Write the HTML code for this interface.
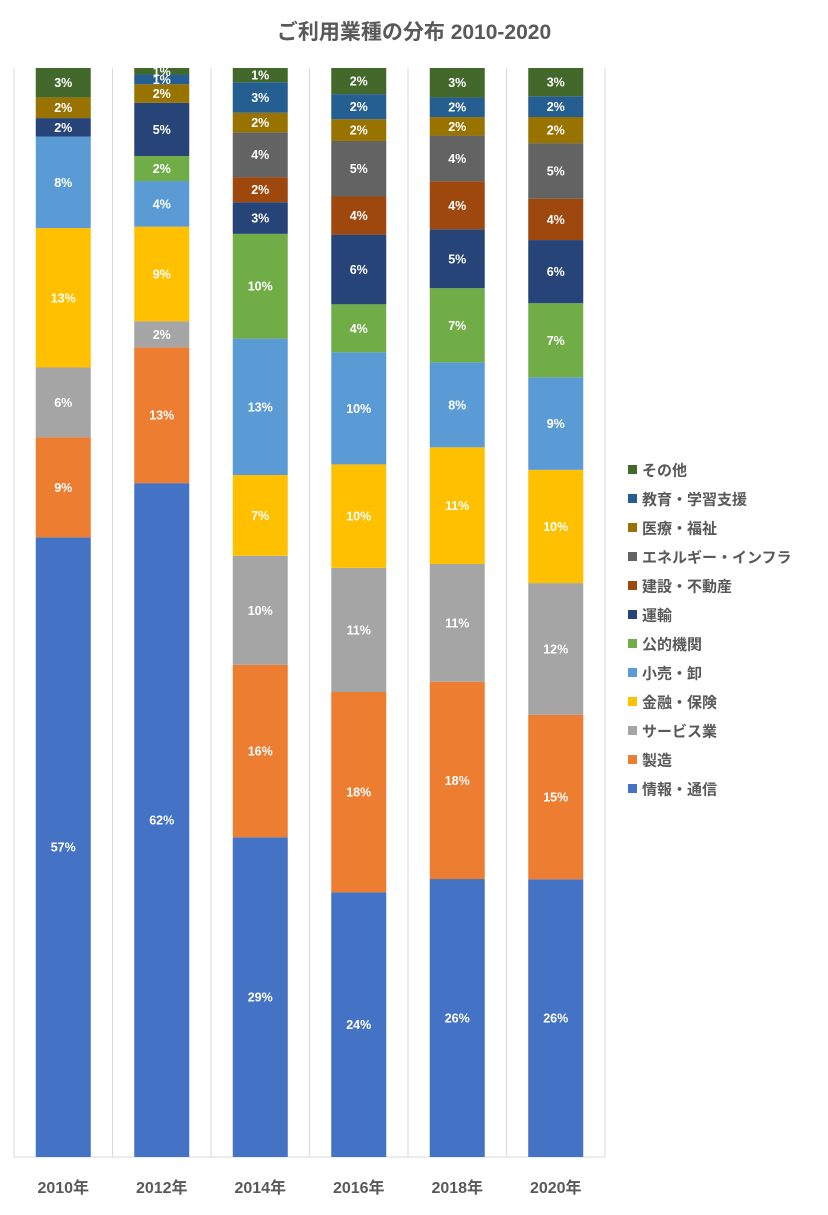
<!DOCTYPE html>
<html><head><meta charset="utf-8">
<style>
body{margin:0;background:#fff;width:828px;height:1210px;overflow:hidden}
text{font-family:"Liberation Sans","Noto Sans CJK JP",sans-serif}
</style></head>
<body>
<svg id="chart" width="828" height="1210">
<text x="414" y="39" text-anchor="middle" font-size="21" font-weight="bold" fill="#595959">ご利用業種の分布 2010-2020</text>
</svg>
<script>
const categories=["2010年","2012年","2014年","2016年","2018年","2020年"];
const seriesNames=["情報・通信","製造","サービス業","金融・保険","小売・卸","公的機関","運輸","建設・不動産","エネルギー・インフラ","医療・福祉","教育・学習支援","その他"];
const colors=["#4472C4","#ED7D31","#A5A5A5","#FFC000","#5B9BD5","#70AD47","#264478","#9E480E","#636363","#997300","#255E91","#43682B"];
const s0=[56.9,62.0,29.3,24.3,25.5,25.5];
const s1=[9.2,12.5,15.8,18.4,18.1,15.1];
const s2=[6.4,2.4,10.0,11.4,10.8,12.1];
const s3=[12.8,8.7,7.4,9.5,10.7,10.4];
const s4=[8.4,4.2,12.5,10.3,7.8,8.5];
const s5=[0,2.3,9.6,4.4,6.8,6.8];
const s6=[1.7,4.9,2.9,6.4,5.4,5.8];
const s7=[0,0,2.3,3.5,4.4,3.8];
const s8=[0,0,4.1,5.1,4.2,5.1];
const s9=[1.9,1.7,1.8,2.0,1.7,2.4];
const s10=[0,0.9,2.8,2.3,1.8,1.9];
const s11=[2.7,0.6,1.3,2.4,2.7,2.6];
const series=[s0,s1,s2,s3,s4,s5,s6,s7,s8,s9,s10,s11];
const NS="http://www.w3.org/2000/svg";
const svg=document.getElementById('chart');
const plotL=14,plotR=605,plotT=68,plotB=1157;
const bandW=(plotR-plotL)/categories.length,barW=55;
function xBand(i){return plotL+bandW*i;}
function yScale(frac){return plotB-frac*(plotB-plotT);}
function mk(tag,attrs){const e=document.createElementNS(NS,tag);for(const k in attrs)e.setAttribute(k,attrs[k]);svg.appendChild(e);return e;}
for(let i=0;i<=categories.length;i++){
  const g=mk('line',{x1:xBand(i),x2:xBand(i),y1:plotT,y2:plotB,stroke:'#d9d9d9','stroke-width':1});
  
  
}
const ax=mk('line',{x1:plotL,x2:plotR,y1:plotB,y2:plotB,stroke:'#d9d9d9','stroke-width':1});


categories.forEach((c,i)=>{
  let total=0;series.forEach(s=>total+=s[i]);
  let cum=0;
  const cx=xBand(i)+bandW/2;
  series.forEach((s,k)=>{
    const v=s[i];
    const y1=yScale(cum/total),y2=yScale((cum+v)/total);
    cum+=v;
    if(v<=0)return;
    const r=mk('rect',{x:cx-barW/2,y:y2,width:barW,height:y1-y2,fill:colors[k]});
    
    
    const t=mk('text',{x:cx,y:(y1+y2)/2+4.5,'text-anchor':'middle','font-size':12.5,'font-weight':'bold',fill:'#fff'});
    t.textContent=Math.round(v)+'%';
    
    
  });
  const xl=mk('text',{x:cx,y:1193,'text-anchor':'middle','font-size':16,'font-weight':'bold',fill:'#595959'});
  xl.textContent=c;
  
  
});
for(let k=series.length-1;k>=0;k--){
  const y=470+(series.length-1-k)*29;
  const sq=mk('rect',{x:628,y:y-5,width:9,height:9,fill:colors[k]});
  
  
  const t=mk('text',{x:642,y:y+5.5,'font-size':15,'font-weight':'bold',fill:'#595959'});
  t.textContent=seriesNames[k];
  
  
}
</script>
</body></html>
